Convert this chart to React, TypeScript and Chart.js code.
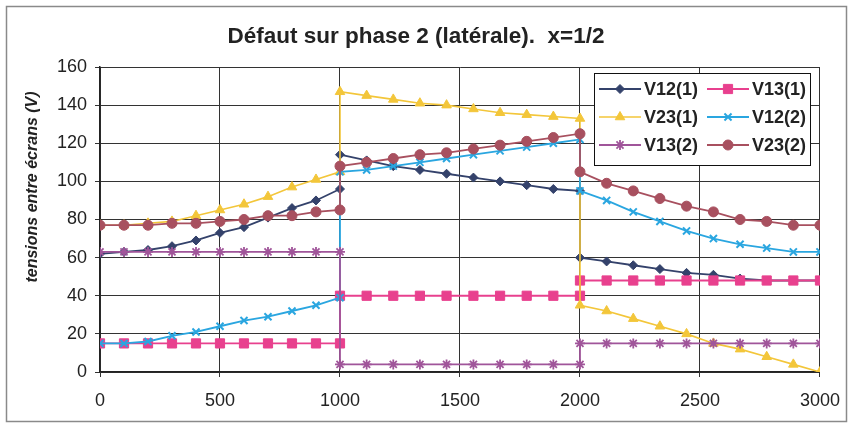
import React, { useEffect, useRef } from 'react';
import { Chart, registerables } from 'chart.js';

Chart.register(...registerables);

const TITLE = 'Défaut sur phase 2 (latérale).  x=1/2';
const Y_TITLE = 'tensions entre écrans (V)';
const X_MIN = 0;
const X_MAX = 3000;
const X_STEP = 500;
const Y_MIN = 0;
const Y_MAX = 160;
const Y_STEP = 20;

const xPositions = [
  0, 100, 200, 300, 400, 500, 600, 700, 800, 900, 1000,
  1000, 1111, 1222, 1333, 1444, 1556, 1667, 1778, 1889, 2000,
  2000, 2111, 2222, 2333, 2444, 2556, 2667, 2778, 2889, 3000,
];

const seriesNames = ['V12(1)', 'V13(1)', 'V23(1)', 'V12(2)', 'V13(2)', 'V23(2)'];

const v12_1 = [
  62, 63, 64, 66, 69, 73, 76, 81, 86, 90, 96,
  114, 111, 108, 106, 104, 102, 100, 98, 96, 95,
  60, 58, 56, 54, 52, 51, 49, 48, 48, 48,
];
const v13_1 = [
  15, 15, 15, 15, 15, 15, 15, 15, 15, 15, 15,
  40, 40, 40, 40, 40, 40, 40, 40, 40, 40,
  48, 48, 48, 48, 48, 48, 48, 48, 48, 48,
];
const v23_1 = [
  77, 77, 78, 79, 82, 85, 88, 92, 97, 101, 105,
  147, 145, 143, 141, 140, 138, 136, 135, 134, 133,
  35, 32, 28, 24, 20, 15, 12, 8, 4, 0,
];
const v12_2 = [
  15, 15, 16, 19, 21, 24, 27, 29, 32, 35, 39,
  105, 106, 108, 110, 112, 114, 116, 118, 120, 122,
  95, 90, 84, 79, 74, 70, 67, 65, 63, 63,
];
const v13_2 = [
  63, 63, 63, 63, 63, 63, 63, 63, 63, 63, 63,
  4, 4, 4, 4, 4, 4, 4, 4, 4, 4,
  15, 15, 15, 15, 15, 15, 15, 15, 15, 15,
];
const v23_2 = [
  77, 77, 77, 78, 78, 79, 80, 82, 82, 84, 85,
  108, 110, 112, 114, 115, 117, 119, 121, 123, 125,
  105, 99, 95, 91, 87, 84, 80, 79, 77, 77,
];

const seriesValues = [v12_1, v13_1, v23_1, v12_2, v13_2, v23_2];

const styles = [
  { color: '#34426b', point: 'rectRot', radius: 4.5, lw: 1.8, pbw: 1 },
  { color: '#e8408e', point: 'rect', radius: 6.5, lw: 1.8, pbw: 1 },
  { color: '#f3c63a', point: 'triangle', radius: 5.5, lw: 1.6, pbw: 1 },
  { color: '#2aa6e0', point: 'crossRot', radius: 5, lw: 1.8, pbw: 2 },
  { color: '#a0559a', point: 'star', radius: 5, lw: 1.8, pbw: 1.8 },
  { color: '#a8505f', point: 'circle', radius: 5, lw: 1.8, pbw: 1 },
];

const FONT = '"Liberation Sans", Arial, sans-serif';

function drawMarker(ctx: CanvasRenderingContext2D, style: string, x: number, y: number, r: number, color: string, bw: number) {
  ctx.save();
  ctx.fillStyle = color;
  ctx.strokeStyle = color;
  ctx.lineWidth = bw;
  ctx.beginPath();
  if (style === 'rectRot') {
    ctx.moveTo(x, y - r);
    ctx.lineTo(x + r, y);
    ctx.lineTo(x, y + r);
    ctx.lineTo(x - r, y);
    ctx.closePath();
    ctx.fill();
    ctx.stroke();
  } else if (style === 'rect') {
    const s = r * Math.SQRT1_2;
    ctx.rect(x - s, y - s, 2 * s, 2 * s);
    ctx.fill();
    ctx.stroke();
  } else if (style === 'triangle') {
    for (let i = 0; i < 3; i++) {
      const a = (i * 2 * Math.PI) / 3;
      const px = x + Math.sin(a) * r;
      const py = y - Math.cos(a) * r;
      if (i === 0) ctx.moveTo(px, py);
      else ctx.lineTo(px, py);
    }
    ctx.closePath();
    ctx.fill();
    ctx.stroke();
  } else if (style === 'crossRot' || style === 'star') {
    const d = r * Math.SQRT1_2;
    ctx.moveTo(x - d, y - d);
    ctx.lineTo(x + d, y + d);
    ctx.moveTo(x - d, y + d);
    ctx.lineTo(x + d, y - d);
    if (style === 'star') {
      ctx.moveTo(x, y - r);
      ctx.lineTo(x, y + r);
      ctx.moveTo(x - r, y);
      ctx.lineTo(x + r, y);
    }
    ctx.stroke();
  } else {
    ctx.arc(x, y, r, 0, Math.PI * 2);
    ctx.fill();
    ctx.stroke();
  }
  ctx.restore();
}

const decorPlugin = {
  id: 'decor',
  beforeDraw(chart: any) {
    const ctx = chart.ctx as CanvasRenderingContext2D;
    ctx.save();
    ctx.fillStyle = '#ffffff';
    ctx.fillRect(0, 0, chart.width, chart.height);
    ctx.restore();
  },
  afterDraw(chart: any) {
    const ctx = chart.ctx as CanvasRenderingContext2D;
    const area = chart.chartArea;
    ctx.save();
    // outer frame
    ctx.strokeStyle = '#8a8a8a';
    ctx.lineWidth = 1.5;
    ctx.strokeRect(6.5, 6.5, chart.width - 13, chart.height - 11);

    // title
    ctx.fillStyle = '#222';
    ctx.font = `bold 22.5px ${FONT}`;
    ctx.textAlign = 'center';
    ctx.textBaseline = 'alphabetic';
    ctx.fillText(TITLE, 416, 43);

    // y title
    ctx.save();
    ctx.translate(33, 187);
    ctx.rotate(-Math.PI / 2);
    ctx.font = `italic bold 16px ${FONT}`;
    ctx.textAlign = 'center';
    ctx.textBaseline = 'middle';
    ctx.fillText(Y_TITLE, 0, 0);
    ctx.restore();

    // legend
    const bx = Math.round(area.right - 226);
    const by = Math.round(area.top + 6);
    const bw = 216;
    const bh = 92;
    ctx.fillStyle = '#ffffff';
    ctx.fillRect(bx, by, bw, bh);
    ctx.strokeStyle = '#111';
    ctx.lineWidth = 1;
    ctx.strokeRect(bx + 0.5, by + 0.5, bw, bh);
    ctx.font = `bold 18px ${FONT}`;
    ctx.textAlign = 'left';
    ctx.textBaseline = 'middle';
    for (let i = 0; i < seriesNames.length; i++) {
      const col = i % 2;
      const row = Math.floor(i / 2);
      const cy = by + 16 + row * 28;
      const lx = bx + 5 + col * 108;
      const st = styles[i];
      ctx.strokeStyle = st.color;
      ctx.lineWidth = st.lw;
      ctx.beginPath();
      ctx.moveTo(lx, cy);
      ctx.lineTo(lx + 42, cy);
      ctx.stroke();
      drawMarker(ctx, st.point, lx + 21, cy, st.radius, st.color, st.pbw);
      ctx.fillStyle = '#222';
      ctx.fillText(seriesNames[i], lx + 45, cy + 1);
    }
    ctx.restore();
  },
};

export default function App() {
  const ref = useRef<HTMLCanvasElement | null>(null);

  useEffect(() => {
    document.body.style.margin = '0';
    const canvas = ref.current;
    if (!canvas) return;
    const datasets = seriesNames.map((name, i) => ({
      label: name,
      data: xPositions.map((x, k) => ({ x, y: seriesValues[i][k] })),
      borderColor: styles[i].color,
      backgroundColor: styles[i].color,
      pointBackgroundColor: styles[i].color,
      pointBorderColor: styles[i].color,
      pointStyle: styles[i].point as any,
      pointRadius: styles[i].radius,
      pointBorderWidth: styles[i].pbw,
      borderWidth: styles[i].lw,
      tension: 0,
      fill: false,
      order: seriesNames.length - i,
    }));

    const chart = new Chart(canvas, {
      type: 'line',
      data: { datasets },
      options: {
        responsive: false,
        animation: false,
        layout: { padding: { top: 67, right: 27, left: 0, bottom: 0 } },
        plugins: {
          legend: { display: false },
          title: { display: false },
          tooltip: { enabled: false },
        },
        scales: {
          x: {
            type: 'linear',
            min: X_MIN,
            max: X_MAX,
            ticks: {
              stepSize: X_STEP,
              color: '#222',
              font: { family: FONT, size: 18 },
              padding: 13,
              maxRotation: 0,
              callback: (v: any) => String(v),
            },
            grid: { color: '#333', lineWidth: 1, tickLength: 5, drawTicks: true },
            border: { color: '#222', width: 1.5 },
            afterFit: (s: any) => { s.height = 54; },
          },
          y: {
            type: 'linear',
            min: Y_MIN,
            max: Y_MAX,
            ticks: {
              stepSize: Y_STEP,
              color: '#222',
              font: { family: FONT, size: 18 },
              padding: 8,
              callback: (v: any) => String(v),
            },
            grid: { color: '#333', lineWidth: 1, tickLength: 5 },
            border: { color: '#222', width: 1.5 },
            afterFit: (s: any) => { s.width = 100; },
          },
        },
      },
      plugins: [decorPlugin],
    });
    return () => chart.destroy();
  }, []);

  return <canvas ref={ref} width={853} height={426} style={{ display: 'block' }} />;
}
